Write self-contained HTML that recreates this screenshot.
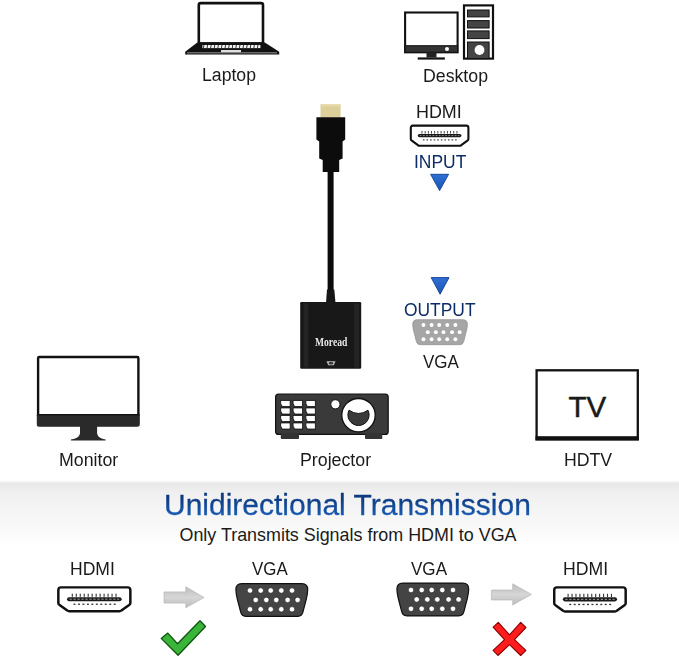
<!DOCTYPE html>
<html><head><meta charset="utf-8">
<style>
html,body{margin:0;padding:0;}
body{width:679px;height:660px;position:relative;overflow:hidden;background:#fff;font-family:"Liberation Sans",sans-serif;color:#1a1a1a;}
.a{position:absolute;white-space:nowrap;}
.t{position:absolute;white-space:nowrap;line-height:1;font-size:18px;transform-origin:0 0;}
svg{position:absolute;left:0;top:0;}
#band{position:absolute;left:0;top:481px;width:679px;height:179px;background:linear-gradient(#fafafa 0px,#e8e8e8 2.5px,#ebebeb 6px,#f0f0f0 12px,#f3f3f3 22px,#f8f8f8 42px,#fff 66px,#fff 179px);}
</style></head>
<body>
<div id="band"></div>
<svg width="679" height="660" viewBox="0 0 679 660">
<g id="laptop">
<rect x="198.8" y="3.1" width="64.2" height="40.5" rx="2" fill="#fff" stroke="#111" stroke-width="2.6"/>
<path d="M197.6 42.2 H264.4 L279.2 51.8 V54.4 H185.2 V51.8 Z" fill="#111"/>
<rect x="202.4" y="45" width="58" height="3.1" fill="#f4f4f4"/>
<path d="M203.50 45 L204.40 45 L203.90 48.1 L203.00 48.1 Z" fill="#222"/>
<path d="M207.10 45 L208.00 45 L207.50 48.1 L206.60 48.1 Z" fill="#222"/>
<path d="M210.70 45 L211.60 45 L211.10 48.1 L210.20 48.1 Z" fill="#222"/>
<path d="M214.30 45 L215.20 45 L214.70 48.1 L213.80 48.1 Z" fill="#222"/>
<path d="M217.90 45 L218.80 45 L218.30 48.1 L217.40 48.1 Z" fill="#222"/>
<path d="M221.50 45 L222.40 45 L221.90 48.1 L221.00 48.1 Z" fill="#222"/>
<path d="M225.10 45 L226.00 45 L225.50 48.1 L224.60 48.1 Z" fill="#222"/>
<path d="M228.70 45 L229.60 45 L229.10 48.1 L228.20 48.1 Z" fill="#222"/>
<path d="M232.30 45 L233.20 45 L232.70 48.1 L231.80 48.1 Z" fill="#222"/>
<path d="M235.90 45 L236.80 45 L236.30 48.1 L235.40 48.1 Z" fill="#222"/>
<path d="M239.50 45 L240.40 45 L239.90 48.1 L239.00 48.1 Z" fill="#222"/>
<path d="M243.10 45 L244.00 45 L243.50 48.1 L242.60 48.1 Z" fill="#222"/>
<path d="M246.70 45 L247.60 45 L247.10 48.1 L246.20 48.1 Z" fill="#222"/>
<path d="M250.30 45 L251.20 45 L250.70 48.1 L249.80 48.1 Z" fill="#222"/>
<path d="M253.90 45 L254.80 45 L254.30 48.1 L253.40 48.1 Z" fill="#222"/>
<path d="M257.50 45 L258.40 45 L257.90 48.1 L257.00 48.1 Z" fill="#222"/>
<rect x="221" y="50" width="20" height="2.3" fill="#e0e0e0"/>
<rect x="187" y="52.4" width="90" height="0.9" fill="#aaa"/>
</g>
<g id="desktop">
<rect x="405.1" y="12.5" width="52.5" height="39.8" fill="#fff" stroke="#111" stroke-width="2.1"/>
<rect x="405.1" y="45.7" width="52.5" height="6.6" fill="#333" stroke="#111" stroke-width="1"/>
<circle cx="447" cy="49" r="2" fill="#fff"/>
<rect x="426.5" y="52.3" width="10" height="5.2" fill="#222"/>
<rect x="417.7" y="57.4" width="27.2" height="2.2" fill="#111"/>
<rect x="464" y="5.4" width="29" height="53.2" fill="#fff" stroke="#111" stroke-width="2.2"/>
<rect x="467.5" y="10" width="21.6" height="6.9" fill="#444" stroke="#111" stroke-width="1"/>
<rect x="467.5" y="20.6" width="21.6" height="7.4" fill="#444" stroke="#111" stroke-width="1"/>
<rect x="467.5" y="30.9" width="21.6" height="7.7" fill="#444" stroke="#111" stroke-width="1"/>
<rect x="467.5" y="42" width="21.6" height="16.6" fill="#444" stroke="#111" stroke-width="1"/>
<circle cx="479.5" cy="50" r="4.9" fill="#fff"/>
</g>
<g id="cable">
<rect x="320.5" y="104.4" width="20.1" height="13.2" fill="#dccf9a"/>
<rect x="320.5" y="104.4" width="20.1" height="2" fill="#e6d9a8"/>
<path d="M316.4 117.3 H345.2 V139.5 L342.6 141.5 V158.5 L339.2 160 V172 H322.7 V160 L319.2 158.5 V141.5 L316.4 139.5 Z" fill="#0c0c0c"/>
<rect x="327.6" y="171" width="6" height="121" fill="#0b0b0b"/>
<path d="M327 289.5 H334.3 L335.5 303 H326 Z" fill="#161616"/>
<rect x="300.2" y="302" width="61" height="66.8" rx="1.2" fill="#181818"/>
<rect x="303.6" y="303.5" width="4.6" height="64" fill="#242424"/>
<rect x="354.3" y="303.5" width="4.6" height="64" fill="#242424"/>
<path d="M326.5 361.2 H335.5 L333.8 365.2 H328.2 Z" fill="#bbb"/>
<ellipse cx="331" cy="363.2" rx="2.4" ry="1.2" fill="#333"/>
</g>
<path d="M430.6 174.3 H448.6 L439.6 190.6 Z" fill="url(#tg)" stroke="#0e3d8f" stroke-width="0.9" stroke-linejoin="round"/>
<path d="M431.2 277.6 H449 L440.1 294.2 Z" fill="url(#tg)" stroke="#0e3d8f" stroke-width="0.9" stroke-linejoin="round"/>
<g transform="translate(409.8 124.6) scale(0.9933333333333334 1.009090909090909)"><path d="M1 3.2 Q1 1 3.2 1 H56.8 Q59 1 59 3.2 V14.2 Q59 15.2 58 15.8 L51.8 20.4 Q51.2 21 50.2 21 H9.8 Q8.8 21 8.2 20.4 L2 15.8 Q1 15.2 1 14.2 Z" fill="#fff" stroke="#111" stroke-width="2.1" stroke-linejoin="round"/><rect x="8.0" y="9.2" width="44" height="3.4" rx="1.7" fill="#1a1a1a"/><line x1="10" y1="10.9" x2="50" y2="10.9" stroke="#bbb" stroke-width="0.7" stroke-dasharray="1.8 1.4"/><rect x="11.80" y="6.3" width="0.9" height="2.6" fill="#333"/><rect x="15.00" y="6.3" width="0.9" height="2.6" fill="#333"/><rect x="18.20" y="6.3" width="0.9" height="2.6" fill="#333"/><rect x="21.40" y="6.3" width="0.9" height="2.6" fill="#333"/><rect x="24.60" y="6.3" width="0.9" height="2.6" fill="#333"/><rect x="27.80" y="6.3" width="0.9" height="2.6" fill="#333"/><rect x="31.00" y="6.3" width="0.9" height="2.6" fill="#333"/><rect x="34.20" y="6.3" width="0.9" height="2.6" fill="#333"/><rect x="37.40" y="6.3" width="0.9" height="2.6" fill="#333"/><rect x="40.60" y="6.3" width="0.9" height="2.6" fill="#333"/><rect x="43.80" y="6.3" width="0.9" height="2.6" fill="#333"/><rect x="47.00" y="6.3" width="0.9" height="2.6" fill="#333"/><rect x="13.20" y="14.6" width="1.6" height="1.1" fill="#333"/><rect x="16.80" y="14.6" width="1.6" height="1.1" fill="#333"/><rect x="20.40" y="14.6" width="1.6" height="1.1" fill="#333"/><rect x="24.00" y="14.6" width="1.6" height="1.1" fill="#333"/><rect x="27.60" y="14.6" width="1.6" height="1.1" fill="#333"/><rect x="31.20" y="14.6" width="1.6" height="1.1" fill="#333"/><rect x="34.80" y="14.6" width="1.6" height="1.1" fill="#333"/><rect x="38.40" y="14.6" width="1.6" height="1.1" fill="#333"/><rect x="42.00" y="14.6" width="1.6" height="1.1" fill="#333"/><rect x="45.60" y="14.6" width="1.6" height="1.1" fill="#333"/></g>
<g transform="translate(412.3 319.3) scale(0.76)"><path d="M6.5 0.6 H66.5 Q72.4 0.6 72.4 6.5 Q72.4 10.5 71 16 L67.6 29.2 Q66.6 33.4 62.4 33.4 H10.6 Q6.4 33.4 5.4 29.2 L2 16 Q0.6 10.5 0.6 6.5 Q0.6 0.6 6.5 0.6 Z" fill="#a6a6a6" stroke="#999" stroke-width="1.2"/><circle cx="14.7" cy="7.5" r="2.6" fill="#fff" stroke="#999" stroke-width="0"/><circle cx="14.7" cy="26.3" r="2.6" fill="#fff" stroke="#999" stroke-width="0"/><circle cx="25.4" cy="7.5" r="2.6" fill="#fff" stroke="#999" stroke-width="0"/><circle cx="25.4" cy="26.3" r="2.6" fill="#fff" stroke="#999" stroke-width="0"/><circle cx="35.4" cy="7.5" r="2.6" fill="#fff" stroke="#999" stroke-width="0"/><circle cx="35.4" cy="26.3" r="2.6" fill="#fff" stroke="#999" stroke-width="0"/><circle cx="46.0" cy="7.5" r="2.6" fill="#fff" stroke="#999" stroke-width="0"/><circle cx="46.0" cy="26.3" r="2.6" fill="#fff" stroke="#999" stroke-width="0"/><circle cx="56.7" cy="7.5" r="2.6" fill="#fff" stroke="#999" stroke-width="0"/><circle cx="56.7" cy="26.3" r="2.6" fill="#fff" stroke="#999" stroke-width="0"/><circle cx="20.4" cy="16.9" r="2.6" fill="#fff" stroke="#999" stroke-width="0"/><circle cx="31.0" cy="16.9" r="2.6" fill="#fff" stroke="#999" stroke-width="0"/><circle cx="41.0" cy="16.9" r="2.6" fill="#fff" stroke="#999" stroke-width="0"/><circle cx="52.3" cy="16.9" r="2.6" fill="#fff" stroke="#999" stroke-width="0"/><circle cx="62.3" cy="16.9" r="2.6" fill="#fff" stroke="#999" stroke-width="0"/></g>
<g id="monitor">
<rect x="38.1" y="357" width="100.3" height="68.2" rx="1.2" fill="#fff" stroke="#111" stroke-width="2.4"/>
<rect x="36.9" y="414.1" width="102.6" height="12.4" rx="1.2" fill="#2a2a2a"/>
<rect x="36.9" y="414.1" width="102.6" height="1.3" fill="#111"/>
<path d="M80 426 H97.1 V433.5 Q98 438.6 105.6 439.6 V440.4 H70.9 V439.6 Q79.1 438.6 80 433.5 Z" fill="#2a2a2a"/>
</g>
<g id="projector">
<rect x="275.6" y="394.2" width="112.6" height="40.2" rx="3" fill="#3a3a3a" stroke="#111" stroke-width="1.2"/>
<rect x="280.8" y="433" width="18.2" height="6" rx="1" fill="#333"/>
<rect x="365" y="433" width="17.3" height="6" rx="1" fill="#333"/>
<path d="M280.60 400.40 H290.20 V406.60 H282.20 Q280.00 403.80 280.60 400.40 Z" fill="#fff" stroke="#111" stroke-width="0.9"/>
<path d="M280.60 407.90 H290.20 V414.10 H282.20 Q280.00 411.30 280.60 407.90 Z" fill="#fff" stroke="#111" stroke-width="0.9"/>
<path d="M280.60 415.40 H290.20 V421.60 H282.20 Q280.00 418.80 280.60 415.40 Z" fill="#fff" stroke="#111" stroke-width="0.9"/>
<path d="M280.60 422.90 H290.20 V429.10 H282.20 Q280.00 426.30 280.60 422.90 Z" fill="#fff" stroke="#111" stroke-width="0.9"/>
<path d="M293.00 400.40 H302.60 V406.60 H294.60 Q292.40 403.80 293.00 400.40 Z" fill="#fff" stroke="#111" stroke-width="0.9"/>
<path d="M293.00 407.90 H302.60 V414.10 H294.60 Q292.40 411.30 293.00 407.90 Z" fill="#fff" stroke="#111" stroke-width="0.9"/>
<path d="M293.00 415.40 H302.60 V421.60 H294.60 Q292.40 418.80 293.00 415.40 Z" fill="#fff" stroke="#111" stroke-width="0.9"/>
<path d="M293.00 422.90 H302.60 V429.10 H294.60 Q292.40 426.30 293.00 422.90 Z" fill="#fff" stroke="#111" stroke-width="0.9"/>
<path d="M305.80 400.40 H315.40 V406.60 H307.40 Q305.20 403.80 305.80 400.40 Z" fill="#fff" stroke="#111" stroke-width="0.9"/>
<path d="M305.80 407.90 H315.40 V414.10 H307.40 Q305.20 411.30 305.80 407.90 Z" fill="#fff" stroke="#111" stroke-width="0.9"/>
<path d="M305.80 415.40 H315.40 V421.60 H307.40 Q305.20 418.80 305.80 415.40 Z" fill="#fff" stroke="#111" stroke-width="0.9"/>
<path d="M305.80 422.90 H315.40 V429.10 H307.40 Q305.20 426.30 305.80 422.90 Z" fill="#fff" stroke="#111" stroke-width="0.9"/>
<circle cx="335.4" cy="404.3" r="4.6" fill="#fff" stroke="#111" stroke-width="1"/>
<circle cx="358.5" cy="415.2" r="16.7" fill="#fff" stroke="#111" stroke-width="1.3"/>
<path d="M349 410.2 Q358.5 416.8 368 410.2 A10.6 10.6 0 1 1 349 410.2 Z" fill="#3a3a3a" stroke="#111" stroke-width="1"/>
</g>
<g id="tv">
<rect x="536.6" y="370.3" width="101.2" height="69" fill="#fff" stroke="#111" stroke-width="2.3"/>
<rect x="535.5" y="436.2" width="103.4" height="4.2" fill="#111"/>
</g>
<defs><linearGradient id="ag" x1="0" y1="0" x2="0" y2="1"><stop offset="0" stop-color="#bdbdbd"/><stop offset="0.5" stop-color="#d6d6d6"/><stop offset="1" stop-color="#bdbdbd"/></linearGradient><linearGradient id="tg" x1="0" y1="0" x2="0" y2="1"><stop offset="0" stop-color="#2f70d4"/><stop offset="1" stop-color="#1a55b5"/></linearGradient></defs>
<path d="M164 591.9 H185.8 V586.8 L204.1 597.5 L185.8 607.8 V603.1 H164 Z" fill="url(#ag)" stroke="#b0b0b0" stroke-width="0.6"/>
<path d="M491.4 590 H512.7 V583.8 L531.5 594.4 L512.7 605 V600 H491.4 Z" fill="url(#ag)" stroke="#b0b0b0" stroke-width="0.6"/>
<g transform="translate(57.1 586.2) scale(1.2416666666666667 1.190909090909091)"><path d="M1 3.2 Q1 1 3.2 1 H56.8 Q59 1 59 3.2 V14.2 Q59 15.2 58 15.8 L51.8 20.4 Q51.2 21 50.2 21 H9.8 Q8.8 21 8.2 20.4 L2 15.8 Q1 15.2 1 14.2 Z" fill="#fff" stroke="#111" stroke-width="2.0" stroke-linejoin="round"/><rect x="8.0" y="9.2" width="44" height="3.4" rx="1.7" fill="#1a1a1a"/><line x1="10" y1="10.9" x2="50" y2="10.9" stroke="#bbb" stroke-width="0.7" stroke-dasharray="1.8 1.4"/><rect x="11.80" y="6.3" width="0.9" height="2.6" fill="#333"/><rect x="15.00" y="6.3" width="0.9" height="2.6" fill="#333"/><rect x="18.20" y="6.3" width="0.9" height="2.6" fill="#333"/><rect x="21.40" y="6.3" width="0.9" height="2.6" fill="#333"/><rect x="24.60" y="6.3" width="0.9" height="2.6" fill="#333"/><rect x="27.80" y="6.3" width="0.9" height="2.6" fill="#333"/><rect x="31.00" y="6.3" width="0.9" height="2.6" fill="#333"/><rect x="34.20" y="6.3" width="0.9" height="2.6" fill="#333"/><rect x="37.40" y="6.3" width="0.9" height="2.6" fill="#333"/><rect x="40.60" y="6.3" width="0.9" height="2.6" fill="#333"/><rect x="43.80" y="6.3" width="0.9" height="2.6" fill="#333"/><rect x="47.00" y="6.3" width="0.9" height="2.6" fill="#333"/><rect x="13.20" y="14.6" width="1.6" height="1.1" fill="#333"/><rect x="16.80" y="14.6" width="1.6" height="1.1" fill="#333"/><rect x="20.40" y="14.6" width="1.6" height="1.1" fill="#333"/><rect x="24.00" y="14.6" width="1.6" height="1.1" fill="#333"/><rect x="27.60" y="14.6" width="1.6" height="1.1" fill="#333"/><rect x="31.20" y="14.6" width="1.6" height="1.1" fill="#333"/><rect x="34.80" y="14.6" width="1.6" height="1.1" fill="#333"/><rect x="38.40" y="14.6" width="1.6" height="1.1" fill="#333"/><rect x="42.00" y="14.6" width="1.6" height="1.1" fill="#333"/><rect x="45.60" y="14.6" width="1.6" height="1.1" fill="#333"/></g>
<g transform="translate(553.0 586.2) scale(1.2316666666666667 1.2045454545454546)"><path d="M1 3.2 Q1 1 3.2 1 H56.8 Q59 1 59 3.2 V14.2 Q59 15.2 58 15.8 L51.8 20.4 Q51.2 21 50.2 21 H9.8 Q8.8 21 8.2 20.4 L2 15.8 Q1 15.2 1 14.2 Z" fill="#fff" stroke="#111" stroke-width="2.0" stroke-linejoin="round"/><rect x="8.0" y="9.2" width="44" height="3.4" rx="1.7" fill="#1a1a1a"/><line x1="10" y1="10.9" x2="50" y2="10.9" stroke="#bbb" stroke-width="0.7" stroke-dasharray="1.8 1.4"/><rect x="11.80" y="6.3" width="0.9" height="2.6" fill="#333"/><rect x="15.00" y="6.3" width="0.9" height="2.6" fill="#333"/><rect x="18.20" y="6.3" width="0.9" height="2.6" fill="#333"/><rect x="21.40" y="6.3" width="0.9" height="2.6" fill="#333"/><rect x="24.60" y="6.3" width="0.9" height="2.6" fill="#333"/><rect x="27.80" y="6.3" width="0.9" height="2.6" fill="#333"/><rect x="31.00" y="6.3" width="0.9" height="2.6" fill="#333"/><rect x="34.20" y="6.3" width="0.9" height="2.6" fill="#333"/><rect x="37.40" y="6.3" width="0.9" height="2.6" fill="#333"/><rect x="40.60" y="6.3" width="0.9" height="2.6" fill="#333"/><rect x="43.80" y="6.3" width="0.9" height="2.6" fill="#333"/><rect x="47.00" y="6.3" width="0.9" height="2.6" fill="#333"/><rect x="13.20" y="14.6" width="1.6" height="1.1" fill="#333"/><rect x="16.80" y="14.6" width="1.6" height="1.1" fill="#333"/><rect x="20.40" y="14.6" width="1.6" height="1.1" fill="#333"/><rect x="24.00" y="14.6" width="1.6" height="1.1" fill="#333"/><rect x="27.60" y="14.6" width="1.6" height="1.1" fill="#333"/><rect x="31.20" y="14.6" width="1.6" height="1.1" fill="#333"/><rect x="34.80" y="14.6" width="1.6" height="1.1" fill="#333"/><rect x="38.40" y="14.6" width="1.6" height="1.1" fill="#333"/><rect x="42.00" y="14.6" width="1.6" height="1.1" fill="#333"/><rect x="45.60" y="14.6" width="1.6" height="1.1" fill="#333"/></g>
<g transform="translate(235.3 583) scale(1.0)"><path d="M6.5 0.6 H66.5 Q72.4 0.6 72.4 6.5 Q72.4 10.5 71 16 L67.6 29.2 Q66.6 33.4 62.4 33.4 H10.6 Q6.4 33.4 5.4 29.2 L2 16 Q0.6 10.5 0.6 6.5 Q0.6 0.6 6.5 0.6 Z" fill="#444" stroke="#111" stroke-width="1.2"/><circle cx="14.7" cy="7.5" r="2.75" fill="#fff" stroke="#111" stroke-width="0.6"/><circle cx="14.7" cy="26.3" r="2.75" fill="#fff" stroke="#111" stroke-width="0.6"/><circle cx="25.4" cy="7.5" r="2.75" fill="#fff" stroke="#111" stroke-width="0.6"/><circle cx="25.4" cy="26.3" r="2.75" fill="#fff" stroke="#111" stroke-width="0.6"/><circle cx="35.4" cy="7.5" r="2.75" fill="#fff" stroke="#111" stroke-width="0.6"/><circle cx="35.4" cy="26.3" r="2.75" fill="#fff" stroke="#111" stroke-width="0.6"/><circle cx="46.0" cy="7.5" r="2.75" fill="#fff" stroke="#111" stroke-width="0.6"/><circle cx="46.0" cy="26.3" r="2.75" fill="#fff" stroke="#111" stroke-width="0.6"/><circle cx="56.7" cy="7.5" r="2.75" fill="#fff" stroke="#111" stroke-width="0.6"/><circle cx="56.7" cy="26.3" r="2.75" fill="#fff" stroke="#111" stroke-width="0.6"/><circle cx="20.4" cy="16.9" r="2.75" fill="#fff" stroke="#111" stroke-width="0.6"/><circle cx="31.0" cy="16.9" r="2.75" fill="#fff" stroke="#111" stroke-width="0.6"/><circle cx="41.0" cy="16.9" r="2.75" fill="#fff" stroke="#111" stroke-width="0.6"/><circle cx="52.3" cy="16.9" r="2.75" fill="#fff" stroke="#111" stroke-width="0.6"/><circle cx="62.3" cy="16.9" r="2.75" fill="#fff" stroke="#111" stroke-width="0.6"/></g>
<g transform="translate(396.3 582.5) scale(1.0)"><path d="M6.5 0.6 H66.5 Q72.4 0.6 72.4 6.5 Q72.4 10.5 71 16 L67.6 29.2 Q66.6 33.4 62.4 33.4 H10.6 Q6.4 33.4 5.4 29.2 L2 16 Q0.6 10.5 0.6 6.5 Q0.6 0.6 6.5 0.6 Z" fill="#444" stroke="#111" stroke-width="1.2"/><circle cx="14.7" cy="7.5" r="2.75" fill="#fff" stroke="#111" stroke-width="0.6"/><circle cx="14.7" cy="26.3" r="2.75" fill="#fff" stroke="#111" stroke-width="0.6"/><circle cx="25.4" cy="7.5" r="2.75" fill="#fff" stroke="#111" stroke-width="0.6"/><circle cx="25.4" cy="26.3" r="2.75" fill="#fff" stroke="#111" stroke-width="0.6"/><circle cx="35.4" cy="7.5" r="2.75" fill="#fff" stroke="#111" stroke-width="0.6"/><circle cx="35.4" cy="26.3" r="2.75" fill="#fff" stroke="#111" stroke-width="0.6"/><circle cx="46.0" cy="7.5" r="2.75" fill="#fff" stroke="#111" stroke-width="0.6"/><circle cx="46.0" cy="26.3" r="2.75" fill="#fff" stroke="#111" stroke-width="0.6"/><circle cx="56.7" cy="7.5" r="2.75" fill="#fff" stroke="#111" stroke-width="0.6"/><circle cx="56.7" cy="26.3" r="2.75" fill="#fff" stroke="#111" stroke-width="0.6"/><circle cx="20.4" cy="16.9" r="2.75" fill="#fff" stroke="#111" stroke-width="0.6"/><circle cx="31.0" cy="16.9" r="2.75" fill="#fff" stroke="#111" stroke-width="0.6"/><circle cx="41.0" cy="16.9" r="2.75" fill="#fff" stroke="#111" stroke-width="0.6"/><circle cx="52.3" cy="16.9" r="2.75" fill="#fff" stroke="#111" stroke-width="0.6"/><circle cx="62.3" cy="16.9" r="2.75" fill="#fff" stroke="#111" stroke-width="0.6"/></g>
<path d="M161.2 638.4 L167.8 633.1 L177.5 643.7 L200 620.7 L205.5 626.5 L178.1 655.2 Z" fill="#3ab53a" stroke="#0c560c" stroke-width="1.3" stroke-linejoin="round"/>
<path d="M493.1 627.2 L498.3 622.4 L509.5 634.8 L520.7 622.4 L525.9 627.5 L514.5 639.7 L525.9 650.3 L520.7 655.5 L509.5 644.7 L497.9 655.5 L493.1 650.3 L504.5 639.7 Z" fill="#ff1c1c" stroke="#8a0000" stroke-width="1.1" stroke-linejoin="round"/>
</svg>
<div class="t" style="left:201.54px;top:66.4px;transform:scaleX(0.9808);color:#1a1a1a;">Laptop</div>
<div class="t" style="left:423.33px;top:67.3px;transform:scaleX(0.9841);color:#1a1a1a;">Desktop</div>
<div class="t" style="left:416.01px;top:102.8px;transform:scaleX(0.9952);color:#1a1a1a;">HDMI</div>
<div class="t" style="left:413.86px;top:152.6px;transform:scaleX(0.9692);color:#0c2c66;">INPUT</div>
<div class="t" style="left:403.53px;top:301.3px;transform:scaleX(0.9671);color:#0c2c66;">OUTPUT</div>
<div class="t" style="left:423.3px;top:352.9px;transform:scaleX(0.9447);color:#1a1a1a;">VGA</div>
<div class="t" style="left:59.23px;top:450.7px;transform:scaleX(0.9862);color:#1a1a1a;">Monitor</div>
<div class="t" style="left:299.73px;top:450.5px;transform:scaleX(0.9871);color:#1a1a1a;">Projector</div>
<div class="t" style="left:564.03px;top:450.6px;transform:scaleX(0.983);color:#1a1a1a;">HDTV</div>
<div class="t" style="left:70.05px;top:560.05px;transform:scaleX(0.9738);color:#1a1a1a;">HDMI</div>
<div class="t" style="left:252.0px;top:559.7px;transform:scaleX(0.9395);color:#1a1a1a;">VGA</div>
<div class="t" style="left:411.3px;top:559.7px;transform:scaleX(0.9474);color:#1a1a1a;">VGA</div>
<div class="t" style="left:562.84px;top:559.7px;transform:scaleX(0.981);color:#1a1a1a;">HDMI</div>
<div class="a" style="left:314.6px;top:336.2px;font-family:'Liberation Serif',serif;font-weight:bold;font-size:12px;line-height:1;color:#e8e8e8;transform:scaleX(0.8);transform-origin:0 0;">Moread</div>
<div class="t" style="left:568.6px;top:391.8px;font-size:29.5px;-webkit-text-stroke:0.5px #1a1a1a;">TV</div>
<div class="t" style="left:164px;top:489.8px;font-size:30px;color:#0f4f9e;background:linear-gradient(#0d3a80 25%,#1a62bd 90%);-webkit-background-clip:text;background-clip:text;-webkit-text-fill-color:transparent;-webkit-text-stroke:0.3px transparent;padding:0 0 2px 0;">Unidirectional Transmission</div>
<div class="t" style="left:179.5px;top:526.6px;font-size:17.9px;">Only Transmits Signals from HDMI to VGA</div>
</body></html>
